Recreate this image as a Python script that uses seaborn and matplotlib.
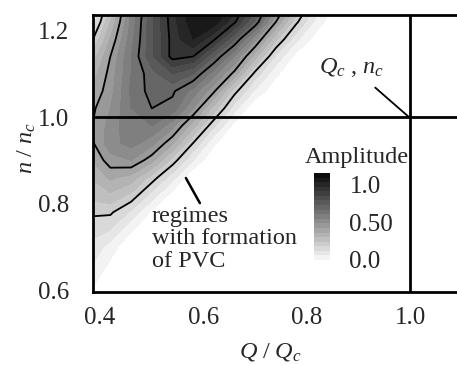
import numpy as np
import matplotlib
matplotlib.use("Agg")
import matplotlib.pyplot as plt
from matplotlib.colors import ListedColormap, BoundaryNorm
from matplotlib.cm import ScalarMappable
import seaborn as sns

sns.set_style("white")
plt.rcParams['font.family'] = ['Liberation Serif', 'DejaVu Serif']
plt.rcParams['mathtext.fontset'] = 'custom'
plt.rcParams['mathtext.rm'] = 'Liberation Serif'
plt.rcParams['mathtext.it'] = 'Liberation Serif:italic'

# grid (Q / Qc columns, n / nc rows)
q_vals = [0.38, 0.42, 0.46, 0.50, 0.54, 0.58, 0.62, 0.66, 0.70, 0.74, 0.78, 0.82, 0.86, 0.90, 1.20]
n_vals = [0.58, 0.62, 0.66, 0.70, 0.74, 0.78, 0.82, 0.86, 0.90, 0.94, 0.98, 1.02, 1.06, 1.10, 1.14, 1.18, 1.22, 1.26]
amplitude = [
    [0.04, 0.00, 0.00, 0.00, 0.00, 0.00, 0.00, 0.00, 0.00, 0.00, 0.00, 0.00, 0.00, 0.00, 0.00],
    [0.07, 0.01, 0.00, 0.00, 0.00, 0.00, 0.00, 0.00, 0.00, 0.00, 0.00, 0.00, 0.00, 0.00, 0.00],
    [0.11, 0.04, 0.00, 0.00, 0.00, 0.00, 0.00, 0.00, 0.00, 0.00, 0.00, 0.00, 0.00, 0.00, 0.00],
    [0.14, 0.08, 0.00, 0.00, 0.00, 0.00, 0.00, 0.00, 0.00, 0.00, 0.00, 0.00, 0.00, 0.00, 0.00],
    [0.17, 0.15, 0.06, 0.00, 0.00, 0.00, 0.00, 0.00, 0.00, 0.00, 0.00, 0.00, 0.00, 0.00, 0.00],
    [0.21, 0.21, 0.14, 0.04, 0.00, 0.00, 0.00, 0.00, 0.00, 0.00, 0.00, 0.00, 0.00, 0.00, 0.00],
    [0.27, 0.29, 0.24, 0.13, 0.03, 0.00, 0.00, 0.00, 0.00, 0.00, 0.00, 0.00, 0.00, 0.00, 0.00],
    [0.30, 0.36, 0.33, 0.23, 0.12, 0.00, 0.00, 0.00, 0.00, 0.00, 0.00, 0.00, 0.00, 0.00, 0.00],
    [0.34, 0.43, 0.45, 0.37, 0.23, 0.10, 0.00, 0.00, 0.00, 0.00, 0.00, 0.00, 0.00, 0.00, 0.00],
    [0.38, 0.48, 0.52, 0.47, 0.36, 0.20, 0.06, 0.00, 0.00, 0.00, 0.00, 0.00, 0.00, 0.00, 0.00],
    [0.39, 0.47, 0.54, 0.55, 0.47, 0.32, 0.16, 0.03, 0.00, 0.00, 0.00, 0.00, 0.00, 0.00, 0.00],
    [0.38, 0.45, 0.55, 0.60, 0.58, 0.45, 0.28, 0.12, 0.00, 0.00, 0.00, 0.00, 0.00, 0.00, 0.00],
    [0.35, 0.43, 0.56, 0.62, 0.61, 0.53, 0.41, 0.22, 0.09, 0.01, 0.00, 0.00, 0.00, 0.00, 0.00],
    [0.31, 0.42, 0.55, 0.63, 0.70, 0.65, 0.52, 0.38, 0.18, 0.06, 0.00, 0.00, 0.00, 0.00, 0.00],
    [0.25, 0.40, 0.55, 0.69, 0.82, 0.80, 0.65, 0.50, 0.32, 0.14, 0.03, 0.00, 0.00, 0.00, 0.00],
    [0.17, 0.355, 0.53, 0.69, 0.82, 0.90, 0.81, 0.65, 0.46, 0.26, 0.11, 0.02, 0.00, 0.00, 0.00],
    [0.09, 0.30, 0.515, 0.69, 0.83, 0.93, 0.93, 0.81, 0.64, 0.40, 0.21, 0.076, 0.00, 0.00, 0.00],
    [0.04, 0.25, 0.50, 0.68, 0.84, 0.95, 0.96, 0.88, 0.72, 0.50, 0.30, 0.13, 0.02, 0.00, 0.00],
]
x_ticks = [0.4, 0.6, 0.8, 1.0]
y_ticks = [0.6, 0.8, 1.0, 1.2]
line_levels = [0.2, 0.4, 0.6, 0.8]
fill_levels = np.arange(0.05, 1.0001, 0.05)
cbar_ticks = [0.0, 0.5, 1.0]
cbar_labels = ['0.0', '0.50', '1.0']

Q, N = np.meshgrid(q_vals, n_vals)
Z = np.array(amplitude)

fig = plt.figure(figsize=(4.57, 3.65), dpi=100)
ax = fig.add_axes([93 / 457, 73 / 365, 421 / 457, 277 / 365])

greys = sns.color_palette("gray_r", len(fill_levels) - 1)
ax.contourf(Q, N, Z, levels=fill_levels, colors=greys, zorder=1)
ax.contour(Q, N, Z, levels=line_levels, colors='black', linewidths=1.3, zorder=2)

ax.axhline(1.0, color='black', lw=2, zorder=3)
ax.axvline(1.0, color='black', lw=2, zorder=3)

ax.set_xlim(0.3865, 1.2)
ax.set_ylim(0.5954, 1.236)
ax.set_xticks(x_ticks, ['0.4', '0.6', '0.8', '1.0'])
ax.set_yticks(y_ticks, ['0.6', '0.8', '1.0', '1.2'])
ax.tick_params(axis='x', length=0, pad=11, labelsize=18)
ax.tick_params(axis='y', length=0, pad=17, labelsize=18)
for side in ['left', 'top', 'bottom']:
    ax.spines[side].set_linewidth(2)
    ax.spines[side].set_color('black')
ax.spines['right'].set_visible(False)

fig.text(270 / 457, 1 - 352 / 365, r'$Q\ /\ Q_c$', ha='center', va='center', fontsize=17.5)
fig.text(27 / 457, 1 - 148 / 365, r'$n\ /\ n_c$', ha='center', va='center', fontsize=17.5, rotation=90)

ax.annotate(r'$Q_c$ , $n_c$', xy=(0.997, 1.0), xytext=(0.887, 1.115),
            ha='center', va='center', fontsize=17.5,
            arrowprops=dict(arrowstyle='-', color='black', lw=1.3, shrinkA=6, shrinkB=0))
ax.plot([0.566, 0.593], [0.859, 0.801], color='black', lw=1.8, zorder=4)
ax.text(0.500, 0.795, 'regimes\nwith formation\nof PVC', ha='left', va='top',
        fontsize=17.5, linespacing=1.1, zorder=4)

# amplitude colour key
cax = fig.add_axes([314 / 457, 105 / 365, 16 / 457, 87 / 365])
key_norm = BoundaryNorm(np.linspace(0, 1.15, len(greys) + 1), len(greys))
cb = fig.colorbar(ScalarMappable(norm=key_norm, cmap=ListedColormap(greys)), cax=cax)
cb.minorticks_off()
cb.set_ticks(cbar_ticks, labels=cbar_labels)
cb.ax.tick_params(which='both', length=0, pad=14, labelsize=18)
cb.outline.set_visible(False)
fig.text(357 / 457, 1 - 157 / 365, 'Amplitude', ha='center', va='center', fontsize=17.5)

fig.savefig('out.png', dpi=100)
